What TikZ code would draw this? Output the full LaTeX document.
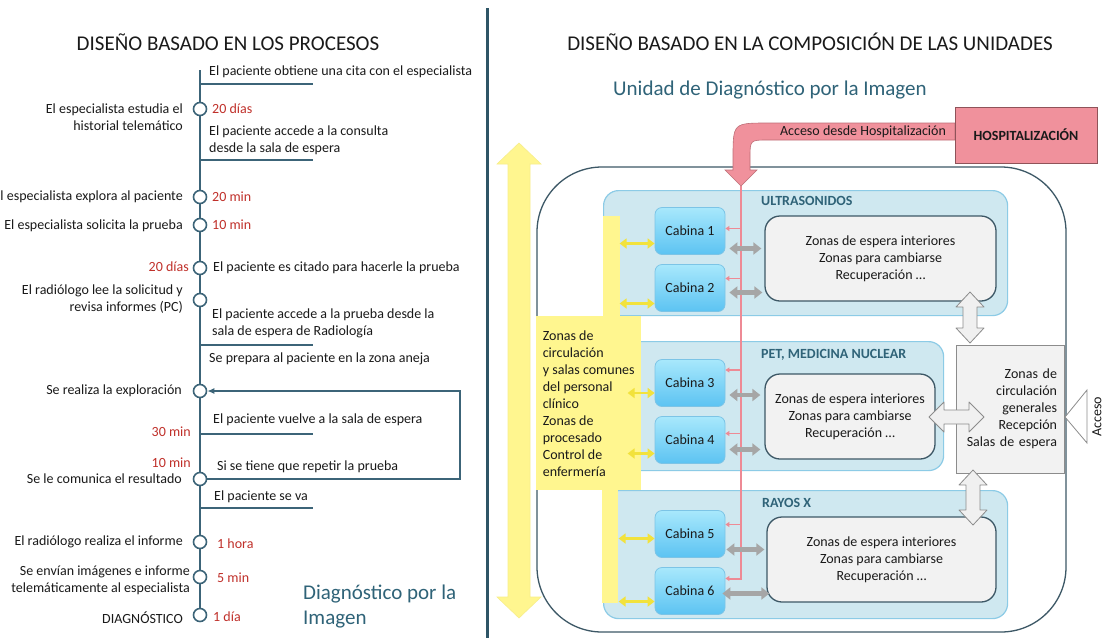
\documentclass[tikz,border=0pt]{standalone}
\usepackage{fontspec}
\setmainfont{Carlito}
\usetikzlibrary{arrows.meta,calc}
\definecolor{txtc}{HTML}{1A1A1A}
\definecolor{durc}{HTML}{C0302A}
\definecolor{tealc}{HTML}{2F6378}
\definecolor{tlc}{HTML}{3C6478}
\definecolor{divc}{HTML}{2E5566}
\definecolor{zonac}{HTML}{CFE8F0}
\definecolor{zonab}{HTML}{8CCBE6}
\definecolor{cabt}{HTML}{A8E8FC}
\definecolor{cabb}{HTML}{5CC3F2}
\definecolor{cabd}{HTML}{7CC4E6}
\definecolor{espc}{HTML}{F2F2F2}
\definecolor{espd}{HTML}{3D5866}
\definecolor{amac}{HTML}{FFF68F}
\definecolor{amad}{HTML}{F2E23C}
\definecolor{grisf}{HTML}{A6A6A6}
\definecolor{gris}{HTML}{8C8C8C}
\definecolor{blq}{HTML}{F0F0F0}
\definecolor{rosac}{HTML}{F0919C}
\definecolor{rosad}{HTML}{EE8A95}
\newcommand{\bloqueV}[3]{\draw[bloque] (#1,#2) -- (#1+14,#2+15) -- (#1+7,#2+15) -- (#1+7,#3-15) -- (#1+14,#3-15) -- (#1,#3) -- (#1-14,#3-15) -- (#1-7,#3-15) -- (#1-7,#2+15) -- (#1-14,#2+15) -- cycle;}
\newcommand{\bloqueH}[3]{\draw[bloque] (#2,#1) -- (#2+15,#1-15) -- (#2+15,#1-7) -- (#3-15,#1-7) -- (#3-15,#1-15) -- (#3,#1) -- (#3-15,#1+15) -- (#3-15,#1+7) -- (#2+15,#1+7) -- (#2+15,#1+15) -- cycle;}

\begin{document}
\begin{tikzpicture}[x=1pt, y=-1pt,
		txt/.style={font=\fontsize{14}{17}\selectfont, text=txtc, inner sep=0pt},
		dur/.style={txt, text=durc},
		grande/.style={txt, text=tealc, font=\fontsize{21}{25}\selectfont},
		tit/.style={txt, text=tealc, font=\fontsize{14}{17}\selectfont\bfseries},
		hito/.style={circle, draw=tlc, line width=1.6pt, fill=white, minimum size=13pt, inner sep=0pt},
		tline/.style={draw=tlc, line width=1.6pt},
		zona/.style={rectangle, rounded corners=15pt, fill=zonac, draw=zonab, line width=1.2pt, anchor=north west, inner sep=0pt},
		tira/.style={rectangle, fill=amac, anchor=north west, inner sep=0pt},
		cab/.style={txt, rectangle, rounded corners=7pt, top color=cabt, bottom color=cabb, draw=cabd, line width=0.8pt, minimum width=70pt, minimum height=47pt},
		espera/.style={txt, rectangle, rounded corners=15pt, fill=espc, draw=espd, line width=1.3pt, minimum height=85pt, align=center},
		yarr/.style={draw=amad, line width=2.5pt, {Triangle[width=10pt,length=7pt]}-{Triangle[width=10pt,length=7pt]}},
		garr/.style={draw=grisf, line width=4.5pt, {Triangle[width=12pt,length=8pt]}-{Triangle[width=12pt,length=8pt]}},
		parr/.style={draw=rosad, line width=1.2pt, -{Triangle[width=5pt,length=4pt]}},
		bloque/.style={draw=gris, fill=blq, line width=0.8pt, line join=round}]
	\fill[white] (0,0) rectangle (1105,638);
	\useasboundingbox (0,0) rectangle (1105,638);

	% procesos
	\node[txt, font=\fontsize{21}{25}\selectfont] (tit1) at (228,42) {DISEÑO BASADO EN LOS PROCESOS};
	\draw[line width=3pt, divc] (487,8) -- (487,638);
	\coordinate (ini) at (200,70);
	\coordinate (fin) at (313,0);
	\coordinate (bucle) at (460,0);
	\node[hito] (c1) at (200,109) {};
	\node[hito] (c2) at (200,197) {};
	\node[hito] (c3) at (200,225) {};
	\node[hito] (c4) at (200,268) {};
	\node[hito] (c5) at (200,300) {};
	\node[hito] (c6) at (200,391) {};
	\node[hito] (c7) at (200,479) {};
	\node[hito] (c8) at (200,542) {};
	\node[hito] (c9) at (200,577) {};
	\node[hito] (c10) at (200,615) {};
	\draw[tline] (ini) -- (c1) -- (c2) -- (c3) -- (c4) -- (c5) -- (c6) -- (c7) -- (c8) -- (c9) -- (c10);
	\coordinate (b1) at (200,84);
	\coordinate (b2) at (200,160);
	\coordinate (b3) at (200,345);
	\coordinate (b4) at (200,434);
	\coordinate (b5) at (200,508);
	\draw[tline] (b1) -- (b1 -| fin);
	\draw[tline] (b2) -- (b2 -| fin);
	\draw[tline] (b3) -- (b3 -| fin);
	\draw[tline] (b4) -- (b4 -| fin);
	\draw[tline] (b5) -- (b5 -| fin);
	\draw[tline, -{Latex[length=7pt,width=6pt]}] (c7.east) -- (c7 -| bucle) -- (c6 -| bucle) -- (c6.east);

	\node[txt, anchor=east, align=right] (l1) at (183,117) {El especialista estudia el\\historial telemático};
	\node[txt, anchor=east] (l2) at (183,197) {El especialista explora al paciente};
	\node[txt, anchor=east] (l3) at (183,226) {El especialista solicita la prueba};
	\node[dur, anchor=east] (l4) at (189,267) {20 días};
	\node[txt, anchor=east, align=right] (l5) at (183,299.5) {El radiólogo lee la solicitud y\\revisa informes (PC)};
	\node[txt, anchor=east] (l6) at (182,391) {Se realiza la exploración};
	\node[dur, anchor=east] (l7) at (191,432) {30 min};
	\node[dur, anchor=east] (l8) at (191,463) {10 min};
	\node[txt, anchor=east] (l9) at (182,479) {Se le comunica el resultado};
	\node[txt, anchor=east] (l10) at (183,542) {El radiólogo realiza el informe};
	\node[txt, anchor=east, align=right] (l11) at (190,580) {Se envían imágenes e informe\\telemáticamente al especialista};
	\node[txt, anchor=east] (l12) at (183,618) {DIAGNÓSTICO};

	\node[txt, anchor=west] (r1) at (209,72) {El paciente obtiene una cita con el especialista};
	\node[dur, anchor=west] (r2) at (212,109) {20 días};
	\node[txt, anchor=west, align=left] (r3) at (209,140) {El paciente accede a la consulta\\desde la sala de espera};
	\node[dur, anchor=west] (r4) at (212,197) {20 min};
	\node[dur, anchor=west] (r5) at (212,225) {10 min};
	\node[txt, anchor=west] (r6) at (213,268) {El paciente es citado para hacerle la prueba};
	\node[txt, anchor=west, align=left] (r7) at (212,323) {El paciente accede a la prueba desde la\\sala de espera de Radiología};
	\node[txt, anchor=west] (r8) at (209,359) {Se prepara al paciente en la zona aneja};
	\node[txt, anchor=west] (r9) at (213,420) {El paciente vuelve a la sala de espera};
	\node[txt, anchor=west] (r10) at (217,467) {Si se tiene que repetir la prueba};
	\node[txt, anchor=west] (r11) at (214,497) {El paciente se va};
	\node[dur, anchor=west] (r12) at (217,544) {1 hora};
	\node[dur, anchor=west] (r13) at (217,578) {5 min};
	\node[dur, anchor=west] (r14) at (213,617) {1 día};
	\node[grande, anchor=west, align=left] (diag) at (303,607) {Diagnóstico por la\\Imagen};

	% unidades
	\node[txt, font=\fontsize{21}{25}\selectfont] (tit2) at (810,42) {DISEÑO BASADO EN LA COMPOSICIÓN DE LAS UNIDADES};
	\node[grande] (unidad) at (770,90) {Unidad de Diagnóstico por la Imagen};
	\draw[espd, line width=1.3pt, rounded corners=65pt] (537,167) rectangle (1066,632);
	\filldraw[fill=amac, draw=amad!60, line width=0.6pt] (519,143) -- (541,164) -- (530,164) -- (530,597) -- (541,597) -- (519,618) -- (497,597) -- (508,597) -- (508,164) -- (497,164) -- cycle;

	\node[zona, minimum width=404pt, minimum height=125pt] (us) at (603,190) {};
	\node[zona, minimum width=340pt, minimum height=129pt] (pet) at (603,341) {};
	\node[zona, minimum width=404pt, minimum height=128pt] (rx) at (603,490) {};
	\node[tit, anchor=west] (tus) at (761,201) {ULTRASONIDOS};
	\node[tit, anchor=west] (tpet) at (761,355) {PET, MEDICINA NUCLEAR};
	\node[tit, anchor=west] (trx) at (762,503) {RAYOS X};

	\node[tira, minimum width=17pt, minimum height=100pt] (tira1) at (603,216) {};
	\node[tira, minimum width=16pt, minimum height=113pt] (tira2) at (602,490) {};
	\node[txt, tira, minimum width=105pt, minimum height=174pt, align=left] (comun) at (536,316) {Zonas de\\circulación\\y salas comunes\\del personal\\clínico\\Zonas de\\procesado\\Control de\\enfermería};

	\coordinate (pt) at (741,186);
	\node[cab] (cab1) at (690,231) {Cabina 1};
	\node[cab] (cab2) at (690,288) {Cabina 2};
	\node[cab] (cab3) at (690,383) {Cabina 3};
	\node[cab] (cab4) at (690,440) {Cabina 4};
	\node[cab] (cab5) at (690,534) {Cabina 5};
	\node[cab] (cab6) at (690,591) {Cabina 6};
	\draw[parr, line width=2pt] (pt) |- ([yshift=12.5pt]cab6.east);
	\draw[parr] ([xshift=16pt,yshift=2.5pt]cab1.east) -- ([yshift=2.5pt]cab1.east);
	\draw[parr] ([xshift=16pt,yshift=9.5pt]cab2.east) -- ([yshift=9.5pt]cab2.east);
	\draw[parr] ([xshift=16pt,yshift=13pt]cab3.east) -- ([yshift=13pt]cab3.east);
	\draw[parr] ([xshift=16pt,yshift=6.5pt]cab4.east) -- ([yshift=6.5pt]cab4.east);
	\draw[parr] ([xshift=16pt,yshift=9.5pt]cab5.east) -- ([yshift=9.5pt]cab5.east);

	\node[espera, minimum width=231pt] (esp1) at (880.5,258.5) {Zonas de espera interiores\\Zonas para cambiarse\\Recuperación …};
	\node[espera, minimum width=170pt] (esp2) at (850,416.5) {Zonas de espera interiores\\Zonas para cambiarse\\Recuperación …};
	\node[espera, minimum width=229pt] (esp3) at (881.5,559.5) {Zonas de espera interiores\\Zonas para cambiarse\\Recuperación …};

	\draw[yarr] ([xshift=-35pt,yshift=-12.5pt]cab1.west) -- ([yshift=-12.5pt]cab1.west);
	\draw[yarr] ([xshift=-35pt,yshift=-15.5pt]cab2.west) -- ([yshift=-15.5pt]cab2.west);
	\draw[yarr] ([xshift=-27pt,yshift=-10pt]cab3.west) -- ([yshift=-10pt]cab3.west);
	\draw[yarr] ([xshift=-27pt,yshift=-13.5pt]cab4.west) -- ([yshift=-13.5pt]cab4.west);
	\draw[yarr] ([xshift=-36pt,yshift=-4.5pt]cab5.west) -- ([yshift=-4.5pt]cab5.west);
	\draw[yarr] ([xshift=-36pt,yshift=-10.5pt]cab6.west) -- ([yshift=-10.5pt]cab6.west);

	\draw[garr] ([xshift=4pt,yshift=-17.5pt]cab1.east) -- ([xshift=-3pt,yshift=-17.5pt]cab1.east -| esp1.west);
	\draw[garr] ([xshift=4pt,yshift=-4.5pt]cab2.east) -- ([xshift=-2pt,yshift=-4.5pt]cab2.east -| esp1.west);
	\draw[garr] ([xshift=4pt,yshift=-12pt]cab3.east) -- ([xshift=-4pt,yshift=-12pt]cab3.east -| esp2.west);
	\draw[garr] ([xshift=4pt,yshift=-9.5pt]cab4.east) -- ([xshift=-4pt,yshift=-9.5pt]cab4.east -| esp2.west);
	\draw[garr] ([xshift=1pt,yshift=-15.5pt]cab5.east) -- ([xshift=-2pt,yshift=-15.5pt]cab5.east -| esp3.west);
	\draw[garr] ([xshift=-3pt,yshift=-2.5pt]cab6.east) -- ([xshift=3pt,yshift=-2.5pt]cab6.east -| esp3.west);

	\node[txt, rectangle, fill=espc, draw=gris, line width=1pt, minimum width=108pt, minimum height=128pt, text width=94pt, align=right] (gen) at (1010,409) {Zonas de\\circulación\\generales\\Recepción\\Salas de espera};
	\bloqueV{970}{292}{343}
	\bloqueH{417}{929}{984}
	\bloqueV{973}{470}{525}
	\filldraw[fill=white, draw=gris, line width=0.8pt] (1065,417) -- (1087,390) -- (1087,443) -- cycle;
	\node[txt, rotate=90] (acceso) at (1097,417) {Acceso};

	% acceso desde hospitalizacion
	\filldraw[fill=rosac, draw=rosad!80!black, line width=0.6pt] (955,123) -- (768,123) .. controls (733,123) .. (733,158) -- (733,170) -- (725,170) -- (741,186) -- (757,170) -- (750,170) -- (750,158) .. controls (750,140) .. (768,140) -- (955,140) -- cycle;
	\node[txt] (lhosp) at (863,131.5) {Acceso desde Hospitalización};
	\node[txt, font=\fontsize{14}{17}\selectfont\bfseries, rectangle, fill=rosac, draw=rosad!60!black, line width=0.8pt, minimum width=142pt, minimum height=56pt] (hosp) at (1026,135) {HOSPITALIZACIÓN};
\end{tikzpicture}
\end{document}
